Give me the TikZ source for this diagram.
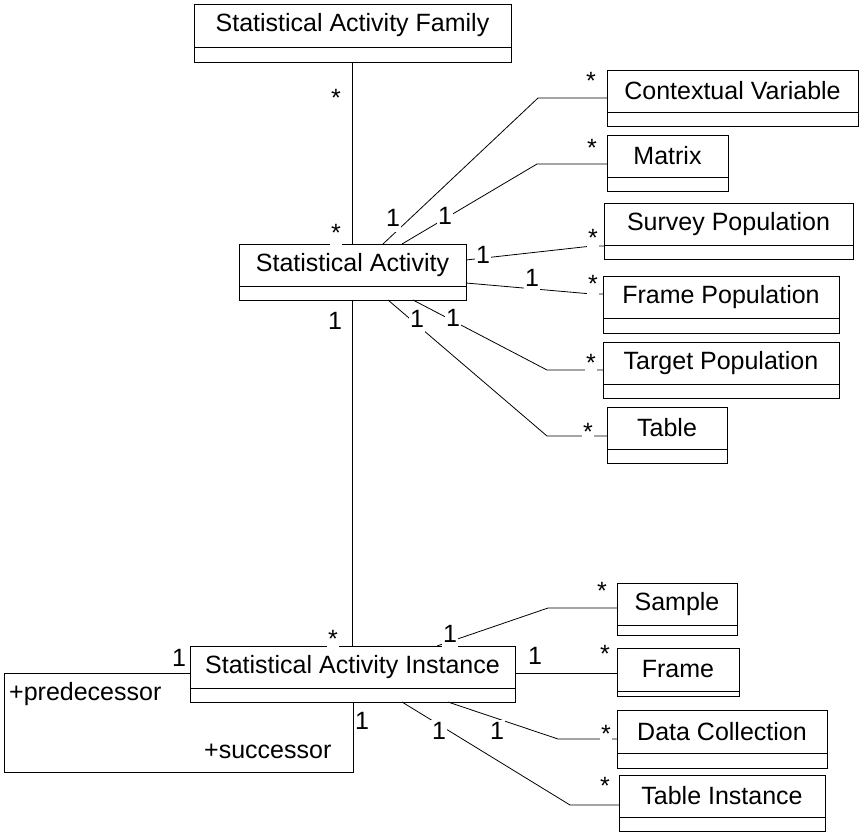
\documentclass[tikz,border=0pt]{standalone}
\usepackage{fontspec}
\setmainfont{Liberation Sans}
\usetikzlibrary{calc}
\begin{document}
\begin{tikzpicture}[x=1pt,y=-1pt,
  cls/.style={draw=black, line width=1pt, inner sep=0pt, outer sep=0pt, font=\fontsize{25}{30}\selectfont},
  conn/.style={draw=black, line width=0.8pt},
  mult/.style={fill=white, inner sep=1pt, text height=18pt, text depth=5pt, anchor=base, font=\fontsize{25}{30}\selectfont},
  role/.style={inner sep=0pt, anchor=base west, font=\fontsize{25}{30}\selectfont}]
\useasboundingbox (0,0) rectangle (859,833);
\newcommand\umlcls[7]{%
  \node[cls, minimum width=#4pt, minimum height=#5pt, anchor=north west] (#1) at (#2,#3) {#7};
  \node[cls, minimum width=#4pt, minimum height=#6pt, anchor=north] (#1-b) at (#1.south) {};}
% classes
\umlcls{SAF}{194}{4}{317}{43}{15}{Statistical Activity Family}
\umlcls{SA}{239}{244}{227}{42}{14}{Statistical Activity}
\umlcls{CV}{607}{70}{251}{42}{14}{Contextual Variable}
\umlcls{MX}{607}{135}{121}{42}{14}{Matrix}
\umlcls{SP}{604}{203}{249}{42}{14}{Survey Population}
\umlcls{FP}{603}{276}{236}{42}{15}{Frame Population}
\umlcls{TP}{603}{342}{236}{42}{14}{Target Population}
\umlcls{TB}{607}{407}{120}{42}{14}{Table}
\umlcls{SAI}{190}{646}{325}{42}{14}{Statistical Activity Instance}
\umlcls{SM}{617}{583}{120}{42}{10}{Sample}
\umlcls{FR}{617}{648}{122}{43}{5}{Frame}
\umlcls{DC}{617}{710}{210}{43}{15}{Data Collection}
\umlcls{TI}{619}{775}{206}{42}{14}{Table Instance}
% kink coordinates
\coordinate (kcv) at (538,98);
\coordinate (kmx) at (537,164);
\coordinate (ksp) at (592,246);
\coordinate (kfp) at (592,294);
\coordinate (ktp) at (547,370);
\coordinate (ktb) at (547,436);
\coordinate (ksm) at (548,608);
\coordinate (sfr) at ([yshift=-27pt]SAI.north east);
\coordinate (kdc) at (558,739);
\coordinate (kti) at (570,805);
\coordinate (lp1) at ([yshift=-27pt]SAI.north west);
\coordinate (lp2) at (4,673);
\coordinate (lp3) at (4,772);
\coordinate (lp4) at (353,772);
% connectors
\draw[conn] (SAF-b.south) -- (SA.north);
\draw[conn] (SA-b.south) -- (SAI.north);
\draw[conn] ([xshift=144pt]SA.north west) -- (kcv) -- (kcv -| CV.west);
\draw[conn] ([xshift=163pt]SA.north west) -- (kmx) -- (kmx -| MX.west);
\draw[conn] ([yshift=-16pt]SA.north east) -- (ksp) -- (ksp -| SP.west);
\draw[conn] ([yshift=-39pt]SA.north east) -- (kfp) -- (kfp -| FP.west);
\draw[conn] ([xshift=174pt]SA-b.south west) -- (ktp) -- (ktp -| TP.west);
\draw[conn] ([xshift=149pt]SA-b.south west) -- (ktb) -- (ktb -| TB.west);
\draw[conn] ([xshift=247pt]SAI.north west) -- (ksm) -- (ksm -| SM.west);
\draw[conn] (sfr) -- (sfr -| FR.west);
\draw[conn] ([xshift=258pt]SAI-b.south west) -- (kdc) -- (kdc -| DC.west);
\draw[conn] ([xshift=212pt]SAI-b.south west) -- (kti) -- (kti -| TI.west);
\draw[conn] (lp1) -- (lp2) -- (lp3) -- (lp4) -- (lp4 |- SAI-b.south);
% multiplicities ("1": baseline = centre+9; "*": baseline = centre+14)
\node[mult] (m1) at (336,106) {*};
\node[mult] (m2) at (336,241) {*};
\node[mult] (m3) at (335,329) {1};
\node[mult] (m4) at (333,647) {*};
\node[mult] (m5) at (393,226) {1};
\node[mult] (m6) at (591,89) {*};
\node[mult] (m7) at (445,224) {1};
\node[mult] (m8) at (592,156) {*};
\node[mult] (m9) at (483,263) {1};
\node[mult] (m10) at (593,246) {*};
\node[mult] (m11) at (532,286) {1};
\node[mult] (m12) at (593,292) {*};
\node[mult] (m13) at (453,326) {1};
\node[mult] (m14) at (591,371) {*};
\node[mult] (m15) at (417,327) {1};
\node[mult] (m16) at (588,440) {*};
\node[mult] (m17) at (450,642) {1};
\node[mult] (m18) at (602,599) {*};
\node[mult] (m19) at (535,664) {1};
\node[mult] (m20) at (605,662) {*};
\node[mult] (m21) at (497,739) {1};
\node[mult] (m22) at (606,742) {*};
\node[mult] (m23) at (439,739) {1};
\node[mult] (m24) at (605,794) {*};
\node[mult] (m25) at (179,666) {1};
\node[mult] (m26) at (362,729) {1};
% role names
\node[role] (r1) at (9,700) {+predecessor};
\node[role] (r2) at (204,758) {+successor};
\end{tikzpicture}
\end{document}
